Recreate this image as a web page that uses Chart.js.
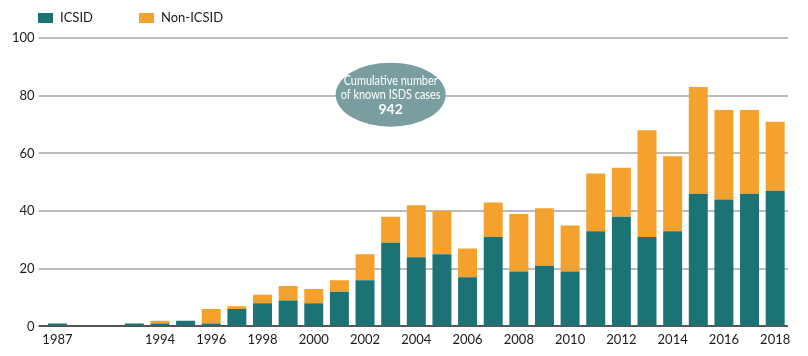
<!DOCTYPE html>
<html>
<head>
<meta charset="utf-8">
<script src="https://cdn.jsdelivr.net/npm/chart.js@4.4.1/dist/chart.umd.min.js"></script>
<style>
html,body{margin:0;padding:0;background:#fff;}
#wrap{position:relative;width:808px;height:356px;}
</style>
</head>
<body>
<div id="wrap"><canvas id="c" width="808" height="356"></canvas></div>
<script>
const categories = ['1987','1989','1991','1993','1994','1995','1996','1997','1998','1999','2000','2001','2002','2003','2004','2005','2006','2007','2008','2009','2010','2011','2012','2013','2014','2015','2016','2017','2018'];
const icsid    = [1,0,0,1,1,2,1,6,8,9,8,12,16,29,24,25,17,31,19,21,19,33,38,31,33,46,44,46,47];
const nonIcsid = [0,0,0,0,1,0,5,1,3,5,5,4,9,9,18,15,10,12,20,20,16,20,17,37,26,37,31,29,24];
const shownTicks = ['1987','1994','1996','1998','2000','2002','2004','2006','2008','2010','2012','2014','2016','2018'];
const seriesNames = ['ICSID','Non-ICSID'];
const seriesColors = ['#1b7375','#f5a12e'];
const calloutLines = ['Cumulative number','of known ISDS cases'];
const calloutTotal = '942';
const calloutAnchor = {category:'2003', value:80};

const FONT = 'Lato, "Open Sans", sans-serif';

const overlay = {
  id:'overlay',
  afterDatasetsDraw(chart){
    const ctx = chart.ctx;
    const xs = chart.scales.x, ys = chart.scales.y;
    const cx = xs.getPixelForValue(categories.indexOf(calloutAnchor.category));
    const cy = ys.getPixelForValue(calloutAnchor.value) - 1;
    ctx.save();
    ctx.fillStyle = '#7a9e9f';
    ctx.beginPath();
    ctx.ellipse(cx, cy, 55, 32, 0, 0, Math.PI*2);
    ctx.fill();
    ctx.fillStyle = '#ffffff';
    ctx.textAlign = 'center';
    ctx.textBaseline = 'middle';
    // slightly condensed text
    ctx.save();
    ctx.translate(cx, 0);
    ctx.scale(0.84, 1);
    ctx.font = '13px ' + FONT;
    ctx.fillText(calloutLines[0], 0, cy-14);
    ctx.fillText(calloutLines[1], 0, cy);
    ctx.restore();
    ctx.font = 'bold 14px ' + FONT;
    ctx.fillText(calloutTotal, cx, cy+15);
    ctx.restore();
  },
  afterDraw(chart){
    const ctx = chart.ctx;
    ctx.save();
    ctx.font = '13px ' + FONT;
    ctx.textBaseline = 'middle';
    ctx.textAlign = 'left';
    const pos = [38, 139];
    seriesNames.forEach((n,i)=>{
      ctx.fillStyle = seriesColors[i];
      ctx.fillRect(pos[i], 13, 15, 10);
      ctx.fillStyle = '#1a1a1a';
      ctx.fillText(n, pos[i]+22, 18);
    });
    ctx.restore();
  }
};

new Chart(document.getElementById('c'), {
  type:'bar',
  data:{
    labels: categories,
    datasets:[
      {label:seriesNames[0], data:icsid, backgroundColor:seriesColors[0], barPercentage:0.74, categoryPercentage:1.0},
      {label:seriesNames[1], data:nonIcsid, backgroundColor:seriesColors[1], barPercentage:0.74, categoryPercentage:1.0}
    ]
  },
  options:{
    responsive:false,
    animation:false,
    devicePixelRatio:1,
    layout:{padding:{top:38,right:20,left:8,bottom:2}},
    plugins:{legend:{display:false}, tooltip:{enabled:false}},
    scales:{
      x:{
        stacked:true,
        grid:{display:false, drawTicks:false},
        border:{display:false},
        ticks:{
          color:'#1a1a1a', font:{family:FONT,size:13}, padding:6,
          autoSkip:false, maxRotation:0,
          callback:function(v){ const l = categories[v]; return shownTicks.includes(l) ? l : ''; }
        }
      },
      y:{
        stacked:true, min:0, max:100,
        grid:{
          color:(c)=> c.tick && c.tick.value===0 ? '#555555' : '#bcbcbc',
          lineWidth:2, drawTicks:true, tickLength:6
        },
        border:{display:false},
        ticks:{stepSize:20, color:'#1a1a1a', font:{family:FONT,size:13}, padding:4}
      }
    }
  },
  plugins:[overlay]
});
</script>
</body>
</html>
